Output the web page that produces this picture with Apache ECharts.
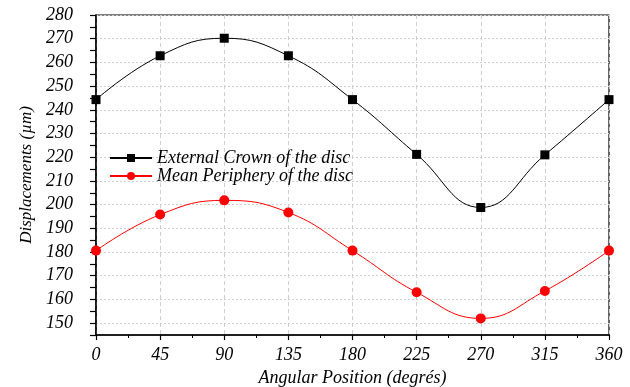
<!DOCTYPE html>
<html><head><meta charset="utf-8">
<script src="https://cdn.jsdelivr.net/npm/echarts@6/dist/echarts.min.js"></script>
<style>html,body{margin:0;padding:0;background:#fff}#c{width:630px;height:387px}</style>
</head><body><div id="c"></div>
<script>
const angles = [0, 45, 90, 135, 180, 225, 270, 315, 360];
const externalCrown = [244.3, 262.8, 270.2, 262.8, 244.3, 221.2, 198.8, 221.0, 244.3];
const meanPeriphery = [180.6, 195.8, 201.8, 196.7, 180.6, 163.0, 152.0, 163.6, 180.6];
const seriesNames = ['External Crown of the disc', 'Mean Periphery of the disc'];
const xTicks = {min: 0, max: 360, step: 45};
const yTicks = {min: 145, max: 280, step: 5, labelStep: 10};

const font = 'Liberation Serif';
const chart = echarts.init(document.getElementById('c'));
chart.setOption({
  animation: false,
  backgroundColor: '#fff',
  grid: {left: 96, right: 21, top: 15, bottom: 52, containLabel: false, outerBoundsMode: 'none',
    show: true, borderColor: '#000', borderWidth: 1.2, backgroundColor: 'transparent'},
  legend: {
    orient: 'vertical', left: 104, top: 144, itemWidth: 42, itemHeight: 10, itemGap: 0,
    textStyle: {fontFamily: font, fontStyle: 'italic', fontSize: 18, color: '#000'},
    data: seriesNames
  },
  xAxis: {
    type: 'value', min: xTicks.min, max: xTicks.max, interval: xTicks.step,
    name: 'Angular Position (degrés)', nameLocation: 'middle', nameGap: 31,
    nameTextStyle: {fontFamily: font, fontStyle: 'italic', fontSize: 18, color: '#000'},
    axisLine: {show: true, onZero: false, lineStyle: {color: '#000', width: 1.5}},
    axisTick: {show: true, inside: false, length: 5, lineStyle: {color: '#000', width: 1.2}},
    minorTick: {show: true, splitNumber: 2, length: 3, lineStyle: {color: '#000', width: 1}},
    axisLabel: {fontFamily: font, fontStyle: 'italic', fontSize: 18, color: '#000', margin: 11},
    splitLine: {show: true, lineStyle: {color: '#cfcfcf', type: [4, 3], width: 1}}
  },
  yAxis: {
    type: 'value', min: yTicks.min, max: yTicks.max, interval: yTicks.step,
    name: 'Displacements (µm)', nameLocation: 'middle', nameGap: 61, nameRotate: 90,
    nameTextStyle: {fontFamily: font, fontStyle: 'italic', fontSize: 17, color: '#000'},
    axisLine: {show: true, onZero: false, lineStyle: {color: '#000', width: 1.5}},
    axisTick: {show: true, inside: false, length: 6, lineStyle: {color: '#000', width: 1.2}},
    axisLabel: {fontFamily: font, fontStyle: 'italic', fontSize: 18, color: '#000', margin: 23,
      formatter: v => (v % yTicks.labelStep === 0 ? String(v) : '')},
    splitLine: {show: true, lineStyle: {color: ['transparent', '#cfcfcf'], type: [2, 2], width: 1}}
  },
  series: [
    {
      name: seriesNames[0], type: 'line', smooth: 0.45,
      data: angles.map((a, i) => [a, externalCrown[i]]),
      symbol: 'rect', symbolSize: 9,
      itemStyle: {color: '#000'}, lineStyle: {color: '#000', width: 1}
    },
    {
      name: seriesNames[1], type: 'line', smooth: 0.45,
      data: angles.map((a, i) => [a, meanPeriphery[i]]),
      symbol: 'circle', symbolSize: 10,
      itemStyle: {color: '#ff0000'}, lineStyle: {color: '#ff0000', width: 1}
    }
  ]
});
</script></body></html>
